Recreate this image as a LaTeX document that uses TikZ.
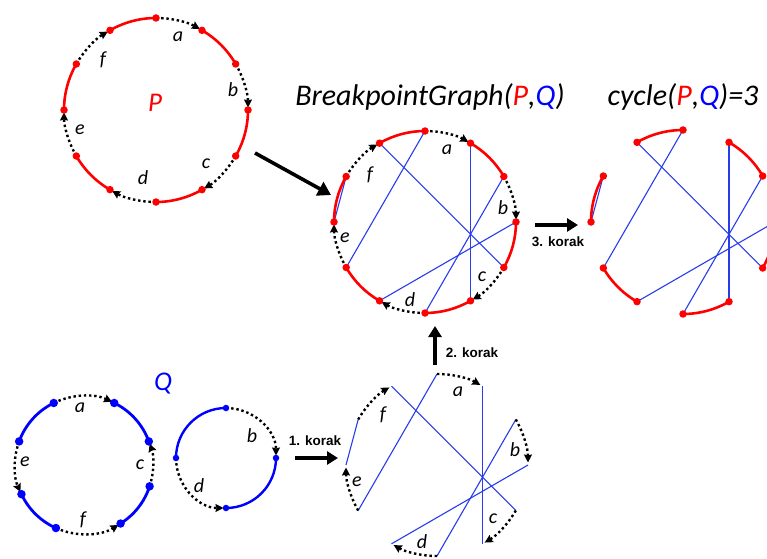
\documentclass[tikz,border=0pt]{standalone}
\usepackage{fontspec}
\setmainfont{Carlito}
\newfontfamily\korakfont{Liberation Sans}
\usetikzlibrary{arrows.meta,calc}
\definecolor{pred}{RGB}{255,0,0}
\definecolor{qblue}{RGB}{0,0,255}
\definecolor{chordblue}{RGB}{40,60,235}
\tikzset{
  redarc/.style={draw=pred,line width=2.6pt},
  bluearc/.style={draw=qblue,line width=2.8pt},
  chord/.style={draw=chordblue,line width=1.1pt},
  blackedge/.style={draw=black,line width=2.4pt,dash pattern=on 2.4pt off 2.8pt,shorten >=2.5pt,
     -{Stealth[length=8pt,width=8pt,inset=1pt]}},
  rdot/.style={circle,fill=pred,inner sep=0pt,minimum size=7.5pt},
  bdot/.style={circle,fill=qblue,inner sep=0pt,minimum size=8.5pt},
  sbdot/.style={circle,fill=qblue,inner sep=0pt,minimum size=6.5pt},
  lab/.style={font=\fontsize{20}{20}\selectfont\itshape},
  bigletter/.style={font=\fontsize{27}{27}\selectfont\itshape},
  titletext/.style={font=\fontsize{30}{30}\selectfont\itshape},
  koraklab/.style={font=\korakfont\bfseries\fontsize{13.5}{13.5}\selectfont},
  bigarrow/.style={line width=3.6pt,-{Triangle[length=11pt,width=13pt]}},
}
\begin{document}
\begin{tikzpicture}[x=1pt,y=1pt]
\path[use as bounding box,clip] (0,0) rectangle (767,558);

% centres
\coordinate (cP) at (156,448);
\coordinate (cB) at (425,336);
\coordinate (cC) at (683,336);
\coordinate (cM) at (437,93);
\coordinate (cQ) at (84,93);
\coordinate (cR) at (226,100);

% points on the 12-point circles
\foreach \i in {0,...,11}{
  \coordinate (P\i) at ($(cP)+({90-30*\i}:92pt)$);
  \coordinate (B\i) at ($(cB)+({90-30*\i}:91pt)$);
  \coordinate (C\i) at ($(cC)+({90-30*\i}:92pt)$);
  \coordinate (M\i) at ($(cM)+({90-30*\i}:91pt)$);
}

% ---------------- P ----------------
\foreach \i [evaluate=\i as \sa using 90-30*\i, evaluate=\i as \ea using 60-30*\i] in {1,3,5,7,9,11}
  \draw[redarc] (P\i) arc[start angle=\sa,end angle=\ea,radius=92pt];
\foreach \i [evaluate=\i as \sa using 90-30*\i, evaluate=\i as \ea using 60-30*\i] in {0,2,4,6,8,10}
  \draw[blackedge] (P\i) arc[start angle=\sa,end angle=\ea,radius=92pt];
\foreach \i in {0,...,11} \node[rdot] (Pd\i) at (P\i) {};
\node[bigletter,text=pred] (Plab) at (155,455) {P};
\node[lab] (Pa) at ($(cP)+(22,73)$) {a};
\node[lab] (Pb) at ($(cP)+(77,20)$) {b};
\node[lab] (Pc) at ($(cP)+(50,-54)$) {c};
\node[lab] (Pd) at ($(cP)+(-13,-68)$) {d};
\node[lab] (Pe) at ($(cP)+(-76,-20)$) {e};
\node[lab] (Pf) at ($(cP)+(-53,50)$) {f};

% ---------------- Breakpoint graph ----------------
\draw[chord] (B0) -- (B8);
\draw[chord] (B11) -- (B4);
\draw[chord] (B1) -- (B5);
\draw[chord] (B2) -- (B6);
\draw[chord] (B3) -- (B7);
\draw[chord] (B10) -- (B9);
\foreach \i [evaluate=\i as \sa using 90-30*\i, evaluate=\i as \ea using 60-30*\i] in {1,3,5,7,9,11}
  \draw[redarc] (B\i) arc[start angle=\sa,end angle=\ea,radius=91pt];
\foreach \i [evaluate=\i as \sa using 90-30*\i, evaluate=\i as \ea using 60-30*\i] in {0,2,4,6,8,10}
  \draw[blackedge] (B\i) arc[start angle=\sa,end angle=\ea,radius=91pt];
\foreach \i in {0,...,11} \node[rdot] (Bd\i) at (B\i) {};
\node[lab] (Ba) at ($(cB)+(22,72)$) {a};
\node[lab] (Bb) at ($(cB)+(78,14)$) {b};
\node[lab] (Bc) at ($(cB)+(57,-55)$) {c};
\node[lab] (Bd) at ($(cB)+(-15,-78)$) {d};
\node[lab] (Be) at ($(cB)+(-80,-16)$) {e};
\node[lab] (Bf) at ($(cB)+(-55,47)$) {f};

% ---------------- cycle graph ----------------
\draw[chord] (C0) -- (C8);
\draw[chord] (C11) -- (C4);
\draw[chord] (C1) -- (C5);
\draw[chord] (C2) -- (C6);
\draw[chord] (C3) -- (C7);
\draw[chord] (C10) -- (C9);
\foreach \i [evaluate=\i as \sa using 90-30*\i, evaluate=\i as \ea using 60-30*\i] in {1,3,5,7,9,11}
  \draw[redarc] (C\i) arc[start angle=\sa,end angle=\ea,radius=92pt];
\foreach \i in {0,...,11} \node[rdot] (Cd\i) at (C\i) {};

% ---------------- bottom middle graph ----------------
\draw[chord] (M0) -- (M8);
\draw[chord] (M11) -- (M4);
\draw[chord] (M1) -- (M5);
\draw[chord] (M2) -- (M6);
\draw[chord] (M3) -- (M7);
\draw[chord] (M10) -- (M9);
\foreach \i [evaluate=\i as \sa using 90-30*\i, evaluate=\i as \ea using 60-30*\i] in {0,2,4,6,8,10}
  \draw[blackedge] (M\i) arc[start angle=\sa,end angle=\ea,radius=91pt];
\node[lab] (Ma) at ($(cM)+(21,73)$) {a};
\node[lab] (Mb) at ($(cM)+(78,15)$) {b};
\node[lab] (Mc) at ($(cM)+(56,-54)$) {c};
\node[lab] (Md) at ($(cM)+(-15,-77)$) {d};
\node[lab] (Me) at ($(cM)+(-80,-17)$) {e};
\node[lab] (Mf) at ($(cM)+(-54,50)$) {f};

% ---------------- Q (two circles) ----------------
\coordinate (Q1) at ($(cQ)+(116:69pt)$);
\coordinate (Q2) at ($(cQ)+(64:69pt)$);
\coordinate (Q3) at ($(cQ)+(20:69pt)$);
\coordinate (Q4) at ($(cQ)+(-18:69pt)$);
\coordinate (Q5) at ($(cQ)+(-58:69pt)$);
\coordinate (Q6) at ($(cQ)+(-114:69pt)$);
\coordinate (Q7) at ($(cQ)+(-155:69pt)$);
\coordinate (Q8) at ($(cQ)+(160:69pt)$);
\draw[bluearc] (Q1) arc[start angle=116,end angle=160,radius=69pt];
\draw[bluearc] (Q2) arc[start angle=64,end angle=20,radius=69pt];
\draw[bluearc] (Q4) arc[start angle=-18,end angle=-58,radius=69pt];
\draw[bluearc] (Q6) arc[start angle=-114,end angle=-155,radius=69pt];
\draw[blackedge] (Q1) arc[start angle=116,end angle=64,radius=69pt];
\draw[blackedge] (Q4) arc[start angle=-18,end angle=20,radius=69pt];
\draw[blackedge] (Q6) arc[start angle=-114,end angle=-58,radius=69pt];
\draw[blackedge] (Q8) arc[start angle=160,end angle=205,radius=69pt];
\foreach \i in {1,...,8} \node[bdot] (Qd\i) at (Q\i) {};
\node[lab] (Qa) at (80,150) {a};
\node[lab] (Qc) at (140,93) {c};
\node[lab] (Qf) at (83,38) {f};
\node[lab] (Qe) at (25,96) {e};

\coordinate (R1) at ($(cR)+(90:50pt)$);
\coordinate (R2) at ($(cR)+(0:50pt)$);
\coordinate (R3) at ($(cR)+(-90:50pt)$);
\coordinate (R4) at ($(cR)+(180:50pt)$);
\draw[bluearc,line width=2.4pt] (R1) arc[start angle=90,end angle=180,radius=50pt];
\draw[bluearc,line width=2.4pt] (R2) arc[start angle=0,end angle=-90,radius=50pt];
\draw[blackedge] (R1) arc[start angle=90,end angle=0,radius=50pt];
\draw[blackedge] (R4) arc[start angle=180,end angle=270,radius=50pt];
\foreach \i in {1,...,4} \node[sbdot] (Rd\i) at (R\i) {};
\node[lab] (Rb) at (252,122) {b};
\node[lab] (Rd) at (199,72) {d};
\node[bigletter,text=qblue] (Qlab) at (163,174) {Q};

% ---------------- titles ----------------
\node[titletext] (T1) at (430,461) {BreakpointGraph(\textcolor{pred}{P},\textcolor{qblue}{Q})};
\node[titletext] (T2) at (683,461) {cycle(\textcolor{pred}{P},\textcolor{qblue}{Q})=3};

% ---------------- step arrows ----------------
\coordinate (A0s) at (255,405);
\coordinate (A0e) at (331,363);
\draw[bigarrow,-{Triangle[length=13pt,width=15pt]}] (A0s) -- (A0e);

\coordinate (A1s) at (295,100);
\coordinate (A1e) at (338,100);
\draw[bigarrow] (A1s) -- (A1e);
\node[koraklab] (K1) at (315,117) {1. korak};

\coordinate (A2s) at (435,193);
\coordinate (A2e) at (435,232);
\draw[bigarrow] (A2s) -- (A2e);
\node[koraklab] (K2) at (472,205) {2. korak};

\coordinate (A3s) at (535,333);
\coordinate (A3e) at (578,333);
\draw[bigarrow] (A3s) -- (A3e);
\node[koraklab] (K3) at (558,316) {3. korak};
\end{tikzpicture}
\end{document}
